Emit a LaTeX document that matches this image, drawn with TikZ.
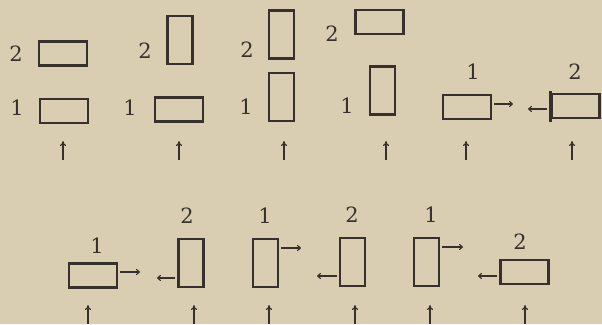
\documentclass[tikz,border=0pt]{standalone}
\usepackage{fontspec}
\setmainfont{DejaVu Serif}
\usetikzlibrary{arrows.meta}
\definecolor{paper}{RGB}{217,206,178}
\definecolor{ink}{RGB}{56,48,44}
\begin{document}
\begin{tikzpicture}[x=1pt,y=-1pt,
  hbox/.style={draw=ink,line width=2.4pt,minimum width=48pt,minimum height=24pt,inner sep=0pt},
  vbox/.style={draw=ink,line width=2.4pt,minimum width=25pt,minimum height=48pt,inner sep=0pt},
  num/.style={text=ink,font=\fontsize{21}{21}\selectfont,inner sep=0pt},
  side/.style={draw=ink,line width=1.1pt,-{To[length=4pt,width=6pt]},shorten <=2pt},
  up/.style={draw=ink,line width=1.1pt,-{To[length=5pt,width=6pt]}}]
\useasboundingbox[fill=paper] (0,0) rectangle (602,324);
% top row
\node[hbox] (A2) at (63,53.5) {};
\node[hbox] (A1) at (64,111) {};
\node[num] (lA2) at (16,54) {2};
\node[num] (lA1) at (17,108) {1};
\node[vbox] (B2) at (180,40) {};
\node[hbox] (B1) at (179,109.5) {};
\node[num] (lB2) at (145,51) {2};
\node[num] (lB1) at (130,108) {1};
\node[vbox] (C2) at (281.5,34.5) {};
\node[vbox] (C1) at (281.5,97) {};
\node[num] (lC2) at (247,50) {2};
\node[num] (lC1) at (246,107) {1};
\node[hbox] (D2) at (379.5,22) {};
\node[vbox] (D1) at (382.5,90.5) {};
\node[num] (lD2) at (332,34) {2};
\node[num] (lD1) at (347,106) {1};
\node[hbox] (E) at (467,107) {};
\node[num] (lE) at (473,72) {1};
\node[hbox] (F) at (575.5,106) {};
\node[num] (lF) at (575,72) {2};
\draw[ink,line width=3pt] (550,91) -- (550,122);
\coordinate (Ea) at (513,104);
\coordinate (Fa) at (528,109);
\draw[side] (E.east |- Ea) -- (Ea);
\draw[side,shorten <=3pt] (F.west |- Fa) -- (Fa);
% top vertical arrows
\foreach \n/\x in {a/63,b/179,c/284,d/386,e/466,f/572}{
  \coordinate (t\n0) at (\x,160);
  \coordinate (t\n1) at (\x,141);
  \draw[up] (t\n0) -- (t\n1);
}
% bottom row
\node[hbox] (G) at (93,275.5) {};
\node[num] (lG) at (97,246) {1};
\node[vbox] (H) at (191,263) {};
\node[num] (lH) at (187,216) {2};
\node[vbox] (I) at (265.5,263) {};
\node[num] (lI) at (265,216) {1};
\node[vbox] (J) at (352.5,262) {};
\node[num] (lJ) at (352,215) {2};
\node[vbox] (K) at (426.5,262) {};
\node[num] (lK) at (431,215) {1};
\node[hbox] (L) at (524.5,272) {};
\node[num] (lL) at (520,242) {2};
\coordinate (Ga) at (140,272);
\coordinate (Ha) at (157,278);
\coordinate (Ia) at (301,248);
\coordinate (Ja) at (317,276);
\coordinate (Ka) at (463,247);
\coordinate (La) at (478,276);
\draw[side] (G.east |- Ga) -- (Ga);
\draw[side] (H.west |- Ha) -- (Ha);
\draw[side] (I.east |- Ia) -- (Ia);
\draw[side] (J.west |- Ja) -- (Ja);
\draw[side] (K.east |- Ka) -- (Ka);
\draw[side] (L.west |- La) -- (La);
\foreach \n/\x in {g/88,h/194,i/269,j/355,k/430,l/525}{
  \coordinate (b\n0) at (\x,324);
  \coordinate (b\n1) at (\x,305);
  \draw[up] (b\n0) -- (b\n1);
}
\end{tikzpicture}
\end{document}
